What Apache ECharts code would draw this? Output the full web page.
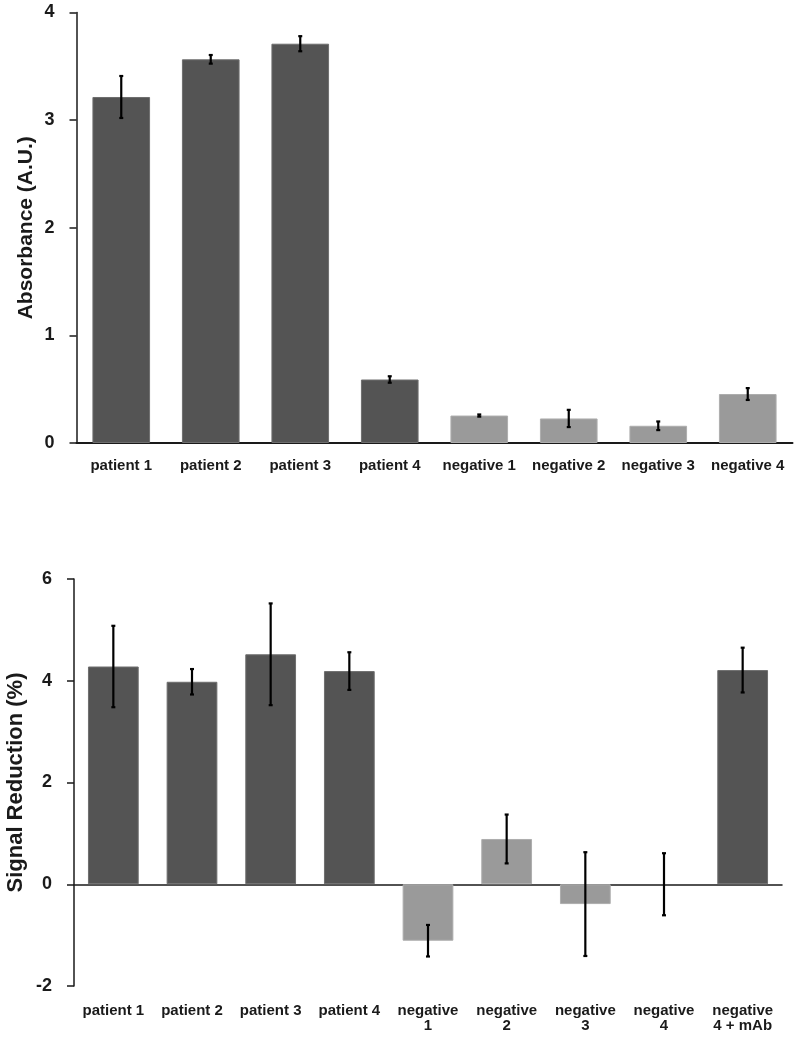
<!DOCTYPE html>
<html>
<head>
<meta charset="utf-8">
<script src="https://cdn.jsdelivr.net/npm/echarts@6/dist/echarts.min.js"></script>
<style>
html,body{margin:0;padding:0;background:#fff;}
#chart{width:800px;height:1042px;}
</style>
</head>
<body>
<div id="chart"></div>
<script>
// ---- Data ----
const topCategories = ['patient 1','patient 2','patient 3','patient 4','negative 1','negative 2','negative 3','negative 4'];
const topValues = [3.215, 3.565, 3.71, 0.59, 0.255, 0.228, 0.16, 0.455];
const topErrors = [0.195, 0.04, 0.07, 0.03, 0.01, 0.08, 0.04, 0.055];
const topGroups = ['patient','patient','patient','patient','negative','negative','negative','negative'];
const topYTicks = [0, 1, 2, 3, 4];

const bottomCategories = ['patient 1','patient 2','patient 3','patient 4','negative\n1','negative\n2','negative\n3','negative\n4','negative\n4 + mAb'];
const bottomValues = [4.28, 3.98, 4.52, 4.19, -1.11, 0.89, -0.39, 0, 4.21];
const bottomErrors = [0.80, 0.25, 1.00, 0.37, 0.31, 0.48, 1.02, 0.61, 0.44];
const bottomGroups = ['patient','patient','patient','patient','negative','negative','negative','negative','patient'];
const bottomYTicks = [-2, 0, 2, 4, 6];

// ---- Styles ----
const FONT = "'Liberation Sans', Arial, Helvetica, sans-serif";
const groupStyle = {
  patient: { color: '#545454', borderColor: '#6e6e6e', borderWidth: 1 },
  negative: { color: '#9a9a9a', borderColor: '#adadad', borderWidth: 1 }
};
const AXIS_COLOR = '#1a1a1a';

function barData(values, groups) {
  return values.map((v, i) => ({
    value: v,
    itemStyle: v === 0 ? Object.assign({}, groupStyle[groups[i]], { borderWidth: 0 }) : groupStyle[groups[i]]
  }));
}
function errData(values, errors) {
  return values.map((v, i) => [i, v + errors[i], v - errors[i]]);
}
function errRender(params, api) {
  const hi = api.coord([api.value(0), api.value(1)]);
  const lo = api.coord([api.value(0), api.value(2)]);
  const cap = 2;
  const style = { stroke: '#000', lineWidth: 2.2 };
  return {
    type: 'group',
    children: [
      { type: 'line', shape: { x1: hi[0], y1: hi[1], x2: lo[0], y2: lo[1] }, style },
      { type: 'line', shape: { x1: hi[0] - cap, y1: hi[1], x2: hi[0] + cap, y2: hi[1] }, style },
      { type: 'line', shape: { x1: lo[0] - cap, y1: lo[1], x2: lo[0] + cap, y2: lo[1] }, style }
    ]
  };
}

function yAxisCommon(gridIndex, ticks, name, nameGap, nameSize) {
  return {
    type: 'value', gridIndex,
    min: ticks[0], max: ticks[ticks.length - 1], interval: ticks[1] - ticks[0],
    name, nameLocation: 'middle', nameGap, nameMoveOverlap: false,
    nameTextStyle: { fontFamily: FONT, fontSize: nameSize, fontWeight: 'bold', color: '#1a1a1a' },
    axisLine: { show: true, onZero: false, lineStyle: { color: AXIS_COLOR, width: 1.5 } },
    axisTick: { show: true, inside: false, length: 7, lineStyle: { color: AXIS_COLOR, width: 1.5 } },
    axisLabel: { fontFamily: FONT, fontSize: 18, fontWeight: 'bold', color: '#1a1a1a', margin: 22 },
    splitLine: { show: false }
  };
}

const chart = echarts.init(document.getElementById('chart'), null, { renderer: 'canvas' });
chart.setOption({
  backgroundColor: '#ffffff',
  animation: false,
  grid: [
    { left: 76.5, right: 7.5, top: 12.5, height: 430.5, outerBoundsMode: 'none', containLabel: false },
    { left: 74, right: 18, top: 579, height: 407, outerBoundsMode: 'none', containLabel: false }
  ],
  xAxis: [
    {
      type: 'category', gridIndex: 0, data: topCategories,
      axisLine: { show: true, lineStyle: { color: AXIS_COLOR, width: 2 } },
      axisTick: { show: false },
      axisLabel: { fontFamily: FONT, fontSize: 15, fontWeight: 'bold', color: '#1a1a1a', margin: 15, interval: 0 }
    },
    {
      type: 'category', gridIndex: 1, data: bottomCategories, position: 'bottom',
      axisLine: { show: false, onZero: false },
      axisTick: { show: false },
      axisLabel: { fontFamily: FONT, fontSize: 15, fontWeight: 'bold', color: '#1a1a1a', margin: 17, interval: 0, lineHeight: 15 }
    },
    {
      type: 'category', gridIndex: 1, data: bottomCategories,
      axisLine: { show: true, onZero: true, lineStyle: { color: AXIS_COLOR, width: 1.5 } },
      axisTick: { show: false },
      axisLabel: { show: false }
    }
  ],
  yAxis: [
    yAxisCommon(0, topYTicks, 'Absorbance (A.U.)', 40, 21),
    yAxisCommon(1, bottomYTicks, 'Signal Reduction (%)', 47, 22)
  ],
  series: [
    {
      type: 'bar', xAxisIndex: 0, yAxisIndex: 0, barWidth: '64.4%',
      data: barData(topValues, topGroups)
    },
    {
      type: 'custom', xAxisIndex: 0, yAxisIndex: 0, renderItem: errRender, z: 10,
      encode: { x: 0, y: [1, 2] },
      data: errData(topValues, topErrors)
    },
    {
      type: 'bar', xAxisIndex: 1, yAxisIndex: 1, barWidth: '64.5%',
      data: barData(bottomValues, bottomGroups)
    },
    {
      type: 'custom', xAxisIndex: 1, yAxisIndex: 1, renderItem: errRender, z: 10,
      encode: { x: 0, y: [1, 2] },
      data: errData(bottomValues, bottomErrors)
    }
  ]
});
</script>
</body>
</html>
